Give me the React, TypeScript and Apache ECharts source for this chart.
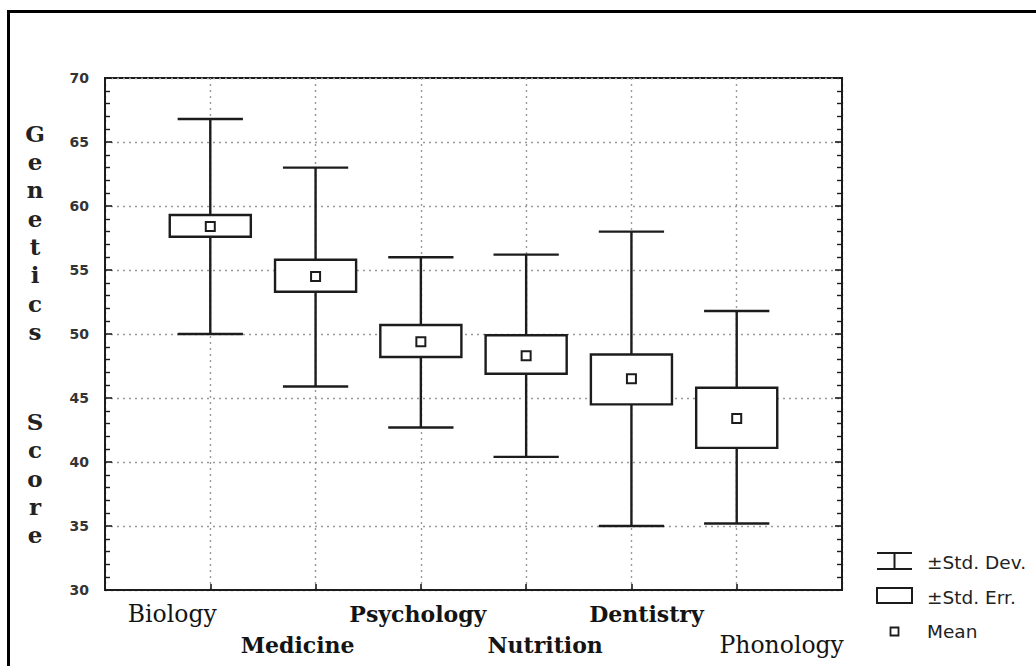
import React, { useEffect, useRef } from "react";
import * as echarts from "echarts";

// ---- data ----
const categories = ["Biology", "Medicine", "Psychology", "Nutrition", "Dentistry", "Phonology"];
const means = [58.4, 54.5, 49.4, 48.3, 46.5, 43.4];
const sdHigh = [66.8, 63.0, 56.0, 56.2, 58.0, 51.8];
const sdLow = [50.0, 45.9, 42.7, 40.4, 35.0, 35.2];
const seHigh = [59.3, 55.8, 50.7, 49.9, 48.4, 45.8];
const seLow = [57.6, 53.3, 48.2, 46.9, 44.5, 41.1];
const yTicks = [30, 35, 40, 45, 50, 55, 60, 65, 70];
const legendLabels = ["±Std. Dev.", "±Std. Err.", "Mean"];

// ---- layout of the staggered category labels ----
const labelRow = [0, 1, 0, 1, 0, 1];
const labelShift = [-38, -18, -3, 19, 15, 45];
const labelBold = [false, true, true, true, true, false];

const INK = "#1c1c1c";

export default function App() {
  const ref = useRef<HTMLDivElement>(null);
  useEffect(() => {
    document.body.style.margin = "0";
    const chart = echarts.init(ref.current!, undefined, { renderer: "svg" });

    const rich: Record<string, any> = {};
    categories.forEach((c, i) => {
      const s = labelShift[i];
      rich["l" + i] = {
        fontFamily: "DejaVu Serif",
        fontSize: labelBold[i] ? 22 : 23.5,
        fontWeight: labelBold[i] ? "bold" : "normal",
        color: "#141414",
        lineHeight: 24,
        padding: [labelRow[i] ? 62 : 0, s < 0 ? -2 * s : 0, 0, s > 0 ? 2 * s : 0],
      };
    });

    const data = categories.map((c, i) => [i + 1, sdLow[i], sdHigh[i], seLow[i], seHigh[i], means[i]]);

    const renderItem = (params: any, api: any) => {
      const xi = api.value(0);
      const x = api.coord([xi, api.value(5)])[0];
      const yOf = (v: number) => api.coord([xi, v])[1];
      const band = api.size([1, 0])[0];
      const boxW = band * 0.77;
      const capW = band * 0.62;
      const ySdLo = yOf(api.value(1));
      const ySdHi = yOf(api.value(2));
      const ySeLo = yOf(api.value(3));
      const ySeHi = yOf(api.value(4));
      const yMean = yOf(api.value(5));
      const ls = { stroke: INK, lineWidth: 2.4, fill: null };
      return {
        type: "group",
        children: [
          { type: "line", shape: { x1: x, y1: ySdHi, x2: x, y2: ySeHi }, style: ls },
          { type: "line", shape: { x1: x, y1: ySeLo, x2: x, y2: ySdLo }, style: ls },
          { type: "line", shape: { x1: x - capW / 2, y1: ySdHi, x2: x + capW / 2, y2: ySdHi }, style: ls },
          { type: "line", shape: { x1: x - capW / 2, y1: ySdLo, x2: x + capW / 2, y2: ySdLo }, style: ls },
          {
            type: "rect",
            shape: { x: x - boxW / 2, y: ySeHi, width: boxW, height: ySeLo - ySeHi },
            style: { stroke: INK, lineWidth: 2.4, fill: "#fff" },
          },
          {
            type: "rect",
            shape: { x: x - 4.5, y: yMean - 4.5, width: 9, height: 9 },
            style: { stroke: INK, lineWidth: 2, fill: "#fff" },
          },
        ],
      };
    };

    const legendFont = { fontFamily: "DejaVu Sans", fontSize: 18.5, fill: "#222" };

    const tickCommon = {
      axisLine: { show: true, lineStyle: { color: INK, width: 2 } },
      axisTick: { show: true, inside: true, length: 7, lineStyle: { color: INK, width: 1.6 } },
      minorTick: { show: true, splitNumber: 5, length: 5, lineStyle: { color: INK, width: 1.4 } },
    };

    chart.setOption({
      animation: false,
      backgroundColor: "#fff",
      grid: { left: 105, top: 78, right: 194, bottom: 76, show: true, borderColor: INK, borderWidth: 2, backgroundColor: "transparent" },
      xAxis: {
        type: "category",
        data: ["", ...categories, ""],
        boundaryGap: false,
        axisLine: { lineStyle: { color: INK, width: 2 } },
        axisTick: { show: true, inside: true, length: 6, interval: 0, lineStyle: { color: INK, width: 1.6 } },
        axisLabel: {
          interval: 0,
          margin: 12,
          formatter: (v: string) => {
            const i = categories.indexOf(v);
            return i < 0 ? "" : `{l${i}|${v}}`;
          },
          rich,
        },
        splitLine: { show: true, interval: 0, lineStyle: { color: "#9a9a9a", type: [2, 4], width: 1.4 } },
      },
      yAxis: [
        {
          type: "value",
          min: yTicks[0],
          max: yTicks[yTicks.length - 1],
          interval: 5,
          name: "{a|G\ne\nn\ne\nt\ni\nc\ns}\n{g| }\n{a|S\nc\no\nr\ne}",
          nameLocation: "middle",
          nameRotate: 0,
          nameGap: 70,
          nameTextStyle: {
            align: "center",
            verticalAlign: "middle",
            rich: {
              a: { fontFamily: "DejaVu Serif", fontSize: 23, fontWeight: "bold", color: "#222", lineHeight: 28.3, align: "center" },
              g: { fontSize: 10, lineHeight: 62 },
            },
          },
          ...tickCommon,
          axisLabel: { fontFamily: "DejaVu Sans", fontSize: 14, fontWeight: "bold", color: "#333", margin: 16 },
          splitLine: { show: true, lineStyle: { color: "#9a9a9a", type: [2, 4], width: 1.4 } },
        },
        {
          type: "value",
          position: "right",
          min: yTicks[0],
          max: yTicks[yTicks.length - 1],
          interval: 5,
          ...tickCommon,
          axisLabel: { show: false },
          splitLine: { show: false },
        },
      ],
      series: [
        {
          type: "custom",
          renderItem,
          data,
          xAxisIndex: 0,
          yAxisIndex: 0,
          clip: false,
        },
      ],
      graphic: [
        { type: "line", shape: { x1: 8.5, y1: 11.5, x2: 8.5, y2: 666 }, style: { stroke: "#000", lineWidth: 3 } },
        { type: "line", shape: { x1: 7, y1: 11.5, x2: 1036, y2: 11.5 }, style: { stroke: "#000", lineWidth: 3 } },
        // legend: std dev symbol
        { type: "line", shape: { x1: 877, y1: 553, x2: 912, y2: 553 }, style: { stroke: INK, lineWidth: 2 } },
        { type: "line", shape: { x1: 877, y1: 569, x2: 912, y2: 569 }, style: { stroke: INK, lineWidth: 2 } },
        { type: "line", shape: { x1: 894.5, y1: 553, x2: 894.5, y2: 569 }, style: { stroke: INK, lineWidth: 2 } },
        { type: "text", x: 927, y: 562, style: { ...legendFont, text: legendLabels[0], verticalAlign: "middle" } },
        // std err box
        { type: "rect", shape: { x: 877, y: 588, width: 35, height: 15 }, style: { stroke: INK, lineWidth: 2, fill: "#fff" } },
        { type: "text", x: 927, y: 597, style: { ...legendFont, text: legendLabels[1], verticalAlign: "middle" } },
        // mean
        { type: "rect", shape: { x: 890.5, y: 627.5, width: 8, height: 8 }, style: { stroke: INK, lineWidth: 1.8, fill: "#fff" } },
        { type: "text", x: 927, y: 631, style: { ...legendFont, text: legendLabels[2], verticalAlign: "middle" } },
      ],
    });
    return () => chart.dispose();
  }, []);
  return <div ref={ref} style={{ width: 1036, height: 666 }} />;
}
